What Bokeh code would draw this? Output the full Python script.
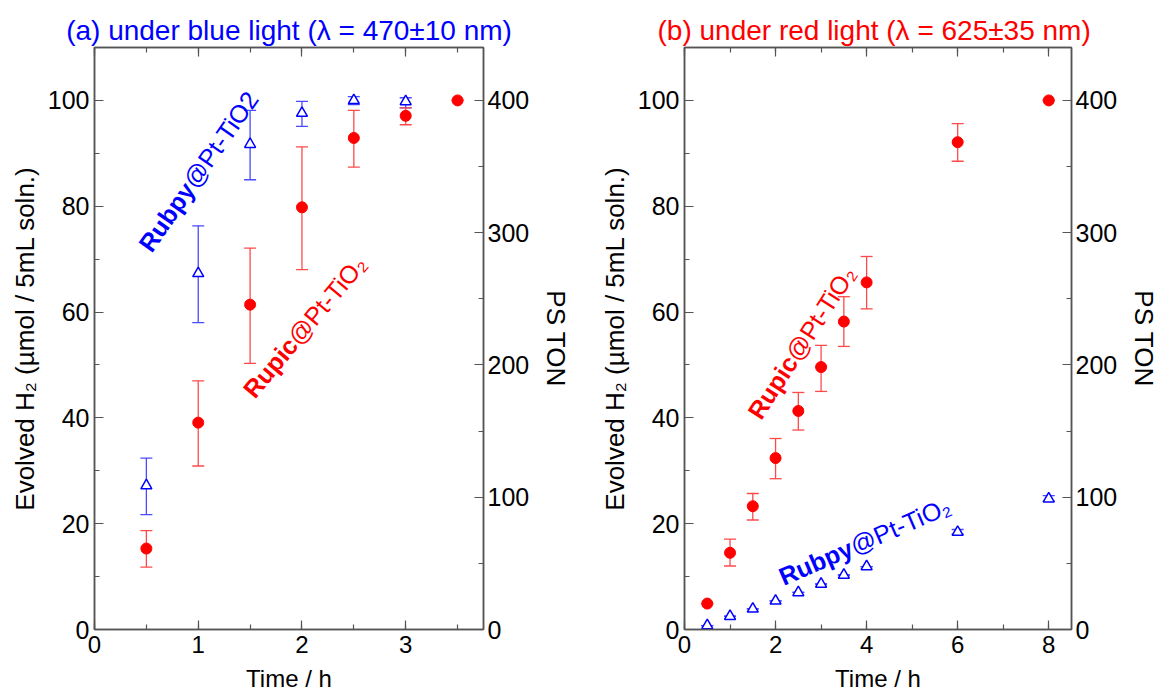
import math
from bokeh.plotting import figure
from bokeh.models import (ColumnDataSource, Whisker, TeeHead, LinearAxis, Range1d,
                          SingleIntervalTicker)
from bokeh.layouts import row
from bokeh.embed import file_html
from bokeh.resources import INLINE
from bokeh.core.properties import value

# ---------------- data ----------------
# (a) blue light
a_rubpy_t = [0.5, 1.0, 1.5, 2.0, 2.5, 3.0]
a_rubpy = [27.2, 67.3, 91.7, 97.6, 100.0, 99.8]
a_rubpy_lo = [21.7, 58.0, 85.0, 95.1, 99.2, 98.6]
a_rubpy_hi = [32.4, 76.3, 98.1, 99.8, 100.7, 100.5]

a_rupic_t = [0.5, 1.0, 1.5, 2.0, 2.5, 3.0, 3.5]
a_rupic = [15.3, 39.1, 61.4, 79.8, 92.9, 97.1, 100.0]
a_rupic_lo = [11.8, 30.9, 50.3, 68.0, 87.4, 95.4, 100.0]
a_rupic_hi = [18.7, 47.0, 72.1, 91.2, 98.1, 98.6, 100.0]

# (b) red light
b_rupic_t = [0.5, 1.0, 1.5, 2.0, 2.5, 3.0, 3.5, 4.0, 6.0, 8.0]
b_rupic = [4.9, 14.5, 23.3, 32.4, 41.3, 49.6, 58.2, 65.6, 92.1, 100.0]
b_rupic_lo = [4.9, 12.0, 20.7, 28.5, 37.7, 45.0, 53.5, 60.6, 88.5, 100.0]
b_rupic_hi = [4.9, 17.1, 25.7, 36.1, 44.8, 53.7, 62.9, 70.5, 95.6, 100.0]

b_rubpy_t = [0.5, 1.0, 1.5, 2.0, 2.5, 3.0, 3.5, 4.0, 6.0, 8.0]
b_rubpy = [0.75, 2.5, 3.9, 5.4, 7.0, 8.6, 10.3, 11.9, 18.4, 24.7]
b_rubpy_lo = [0.75, 2.5, 3.9, 5.4, 7.0, 8.6, 10.3, 11.9, 18.0, 24.2]
b_rubpy_hi = [0.75, 2.5, 3.9, 5.4, 7.0, 8.6, 10.3, 11.9, 18.9, 25.3]

titles = ["(a) under blue light (λ = 470±10 nm)", "(b) under red light  (λ = 625±35 nm)"]
y_label = "Evolved H₂ (µmol / 5mL soln.)"
y2_label = "PS TON"
x_label = "Time / h"
TON_PER_UMOL = 4  # 100 µmol <-> 400 TON

# ---------------- styles ----------------
FONT = "Liberation Sans"
BLUE = "#0000ff"
RED = "#ff0000"
BLUE_ERR = "#4a4aff"
RED_ERR = "#ff4a4a"
AXIS_COL = "#555555"


def style_axis(ax, ticker, tick_size="25px", label_size="26px", show_labels=True):
    ax.ticker = ticker
    ax.axis_line_color = AXIS_COL
    ax.axis_line_width = 1.5
    ax.major_tick_line_color = AXIS_COL
    ax.minor_tick_line_color = AXIS_COL
    ax.major_tick_in = 9
    ax.major_tick_out = 0
    ax.minor_tick_in = 5
    ax.minor_tick_out = 0
    ax.major_tick_line_width = 1.2
    ax.minor_tick_line_width = 1.2
    ax.major_label_text_font = FONT
    ax.major_label_text_font_size = tick_size
    ax.major_label_text_color = "black" if show_labels else None
    ax.axis_label_text_font = FONT
    ax.axis_label_text_font_size = label_size
    ax.axis_label_text_font_style = "normal"
    ax.axis_label_text_color = "black"


def make_panel(title, title_color, xmax, xint, width, mb_left, mb_right, mb_top, mb_bottom):
    p = figure(width=width, height=694, x_range=Range1d(0, xmax), y_range=Range1d(0, 110),
               output_backend="svg", toolbar_location=None, tools="",
               min_border_left=mb_left, min_border_right=mb_right,
               min_border_top=mb_top, min_border_bottom=mb_bottom)
    p.title.text = title
    p.title.text_color = title_color
    p.title.text_font = FONT
    p.title.text_font_size = "28px"
    p.title.text_font_style = "normal"
    p.title.align = "center"
    p.title.standoff = 4
    p.xgrid.visible = False
    p.ygrid.visible = False
    p.outline_line_color = AXIS_COL
    p.outline_line_width = 1.5
    p.background_fill_color = "white"
    p.border_fill_color = "white"

    xb = p.xaxis[0]
    style_axis(xb, SingleIntervalTicker(interval=xint, num_minor_ticks=2),
               tick_size="24px", label_size="24px")
    xb.axis_label = x_label
    xb.major_label_standoff = 6
    xb.axis_label_standoff = 9

    yl = p.yaxis[0]
    style_axis(yl, SingleIntervalTicker(interval=20, num_minor_ticks=2))
    yl.axis_label = y_label
    yl.major_label_standoff = 5
    yl.axis_label_standoff = 5

    p.extra_y_ranges = {"ton": Range1d(0, 110 * TON_PER_UMOL)}
    yr = LinearAxis(y_range_name="ton")
    style_axis(yr, SingleIntervalTicker(interval=100, num_minor_ticks=2))
    yr.axis_label = y2_label
    yr.major_label_standoff = 4
    yr.axis_label_standoff = 9
    p.add_layout(yr, "right")

    xt = LinearAxis()
    style_axis(xt, SingleIntervalTicker(interval=xint, num_minor_ticks=2),
               tick_size="1px", show_labels=False)
    xt.major_label_standoff = 0
    p.add_layout(xt, "above")
    return p


def add_series(p, t, v, lo, hi, kind):
    src = ColumnDataSource(dict(t=t, v=v, lo=lo, hi=hi))
    col = BLUE if kind == "tri" else RED
    ecol = BLUE_ERR if kind == "tri" else RED_ERR
    w = Whisker(base="t", lower="lo", upper="hi", source=src,
                line_color=ecol, line_width=1.3,
                upper_head=TeeHead(size=12, line_color=ecol, line_width=1.3),
                lower_head=TeeHead(size=12, line_color=ecol, line_width=1.3))
    p.add_layout(w)
    if kind == "tri":
        p.scatter("t", "v", source=src, marker="triangle", size=11,
                  fill_color="white", line_color=col, line_width=1.5)
    else:
        p.scatter("t", "v", source=src, marker="circle", size=11,
                  fill_color=col, line_color=col)


def two_part_label(p, x, y, bold, rest, color, angle_deg, bold_em, size=25):
    th = math.radians(angle_deg)
    w = bold_em * size
    common = dict(angle=th, text_color=color, text_font=value(FONT),
                  text_font_size=value(f"{size}px"), text_align="left",
                  text_baseline="alphabetic")
    p.text(x=[x], y=[y], text=[bold], text_font_style="bold", **common)
    p.text(x=[x], y=[y], text=[rest], text_font_style="normal",
           x_offset=w * math.cos(th), y_offset=-w * math.sin(th), **common)


# ---------------- panel (a) ----------------
pa = make_panel(titles[0], BLUE, 3.75, 1, 588, 94, 105, 47, 61)
add_series(pa, a_rubpy_t, a_rubpy, a_rubpy_lo, a_rubpy_hi, "tri")
add_series(pa, a_rupic_t, a_rupic, a_rupic_lo, a_rupic_hi, "dot")
two_part_label(pa, 0.48, 72.0, "Rubpy", "@Pt-TiO2", BLUE, 55, 3.111)
two_part_label(pa, 1.48, 44.5, "Rupic", "@Pt-TiO₂", RED, 50, 2.778)

# ---------------- panel (b) ----------------
pb = make_panel(titles[1], RED, 8.5, 2, 574, 96, 88, 45, 64)
add_series(pb, b_rubpy_t, b_rubpy, b_rubpy_lo, b_rubpy_hi, "tri")
add_series(pb, b_rupic_t, b_rupic, b_rupic_lo, b_rupic_hi, "dot")
two_part_label(pb, 1.52, 40.3, "Rupic", "@Pt-TiO₂", RED, 57, 2.778)
two_part_label(pb, 2.1, 9.8, "Rubpy", "@Pt-TiO₂", BLUE, 23.4, 3.111)

layout = row(pa, pb)
open("out.html", "w").write(file_html(layout, INLINE))
